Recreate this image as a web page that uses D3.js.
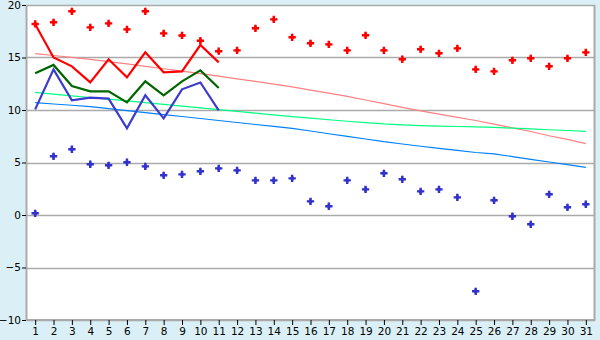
<!DOCTYPE html>
<html>
<head>
<meta charset="utf-8">
<script src="https://cdn.jsdelivr.net/npm/d3@7"></script>
<style>
  body { margin: 0; background: #daf0f6; }
  svg { display: block; }
  .tick text { font-family: "DejaVu Sans", Verdana, sans-serif; font-size: 10.5px; fill: #000; }
</style>
</head>
<body>
<svg id="chart" width="600" height="340"></svg>
<script>
const days = d3.range(1, 32)

const highs = [18.2, 18.35, 19.4, 17.87, 18.25, 17.68, 19.4, 17.3, 17.1, 16.6, 15.6,
  15.68, 17.78, 18.63, 16.92, 16.35, 16.25, 15.68, 17.11, 15.68, 14.83, 15.78, 15.4,
  15.87, 13.87, 13.68, 14.73, 14.92, 14.16, 14.92, 15.49]

const lows = [0.16, 5.59, 6.26, 4.83, 4.73, 5.02, 4.63, 3.78, 3.87, 4.16, 4.44,
  4.25, 3.3, 3.3, 3.49, 1.3, 0.83, 3.3, 2.44, 3.97, 3.4, 2.25, 2.44, 1.68, -7.27,
  1.4, -0.12, -0.89, 1.97, 0.73, 1.02]

const redLine = [18.16, 15.0, 14.16, 12.63, 14.83, 13.11, 15.5, 13.59, 13.68, 16.19, 14.54]
const greenLine = [13.49, 14.29, 12.29, 11.78, 11.78, 10.73, 12.73, 11.4, 12.73, 13.77, 12.1]
const blueLine = [10.06, 13.87, 10.92, 11.17, 11.08, 8.25, 11.4, 9.2, 11.97, 12.62, 9.97]

const pinkTrend = [15.37, 15.19, 15.01, 14.83, 14.61, 14.39, 14.16, 13.93, 13.7, 13.46,
  13.22, 12.97, 12.72, 12.47, 12.2, 11.9, 11.6, 11.3, 10.95, 10.6, 10.25, 9.92, 9.6,
  9.3, 9.0, 8.65, 8.3, 7.95, 7.55, 7.2, 6.8]
const mintTrend = [11.68, 11.52, 11.35, 11.19, 11.03, 10.87, 10.7, 10.53, 10.36, 10.2,
  10.03, 9.86, 9.7, 9.53, 9.37, 9.22, 9.07, 8.93, 8.8, 8.67, 8.58, 8.52, 8.47, 8.43,
  8.4, 8.34, 8.27, 8.2, 8.12, 8.05, 7.97]
const skyTrend = [10.7, 10.57, 10.45, 10.32, 10.13, 9.94, 9.75, 9.56, 9.38, 9.19, 9.0,
  8.81, 8.62, 8.44, 8.25, 8.0, 7.74, 7.49, 7.24, 6.98, 6.76, 6.55, 6.35, 6.15, 5.95,
  5.82, 5.56, 5.3, 5.05, 4.8, 4.54]

const yTicks = [-10, -5, 0, 5, 10, 15, 20]

const svg = d3.select('#chart')
const margin = { top: 5, right: 5, bottom: 20, left: 26 }
const innerWidth = 600 - margin.left - margin.right
const innerHeight = 340 - margin.top - margin.bottom

const xScale = d3.scaleLinear().domain([0.5, 31.5]).range([0, innerWidth])
const yScale = d3.scaleLinear().domain([-10, 20]).range([innerHeight, 0])

const g = svg.append('g').attr('transform', `translate(${margin.left},${margin.top})`)

g.append('rect')
  .attr('width', innerWidth)
  .attr('height', innerHeight)
  .attr('fill', '#fff')

// grid
g.selectAll('.grid').data(yTicks).enter().append('line')
  .attr('x1', 0).attr('x2', innerWidth)
  .attr('y1', d => Math.round(yScale(d)) + 0.5)
  .attr('y2', d => Math.round(yScale(d)) + 0.5)
  .attr('stroke', '#aaa').attr('stroke-width', 1.5)

// frame (left, right, bottom)
g.append('path')
  .attr('d', `M0.5,0V${innerHeight}H${innerWidth - 0.5}V0`)
  .attr('fill', 'none').attr('stroke', '#aaa').attr('stroke-width', 2)

const yAxis = d3.axisLeft(yScale).tickValues(yTicks).tickSize(4).tickPadding(1)
  .tickFormat(d => d < 0 ? '\u2212' + Math.abs(d) : d)
const yAxisG = g.append('g').call(yAxis)
yAxisG.select('.domain').remove()
yAxisG.selectAll('.tick line').attr('stroke', '#000')

const xAxis = d3.axisBottom(xScale).tickValues(days).tickSize(5).tickPadding(0)
const xAxisG = g.append('g').attr('transform', `translate(0,${innerHeight})`).call(xAxis)
xAxisG.select('.domain').remove()
xAxisG.selectAll('.tick line').attr('stroke', '#000')
xAxisG.selectAll('.tick text').attr('dy', '10px')

const line = d3.line()
  .x((d, i) => xScale(days[i]))
  .y(d => yScale(d))

const trends = [[pinkTrend, '#ff8080'], [mintTrend, '#00ff80'], [skyTrend, '#0080ff']]
trends.forEach(([vals, color]) => {
  g.append('path').attr('d', line(vals))
    .attr('fill', 'none').attr('stroke', color).attr('stroke-width', 1.2)
})

const series = [[redLine, '#ff0000'], [greenLine, '#006600'], [blueLine, '#3b3bcc']]
series.forEach(([vals, color]) => {
  g.append('path').attr('d', line(vals))
    .attr('fill', 'none').attr('stroke', color).attr('stroke-width', 2.2)
})

const cross = d3.symbol().type(d3.symbolCross).size(30)
const diamond = d3.symbol().type(d3.symbolDiamond).size(16)
const dots = [[highs, '#ff0000'], [lows, '#3333cc']]
dots.forEach(([vals, color]) => {
  const pts = g.selectAll(null).data(vals).enter().append('g')
    .attr('transform', (d, i) => `translate(${xScale(days[i])},${yScale(d)})`)
    .attr('fill', color)
  pts.append('path').attr('d', cross)
  pts.append('path').attr('d', diamond)
})
</script>
</body>
</html>
